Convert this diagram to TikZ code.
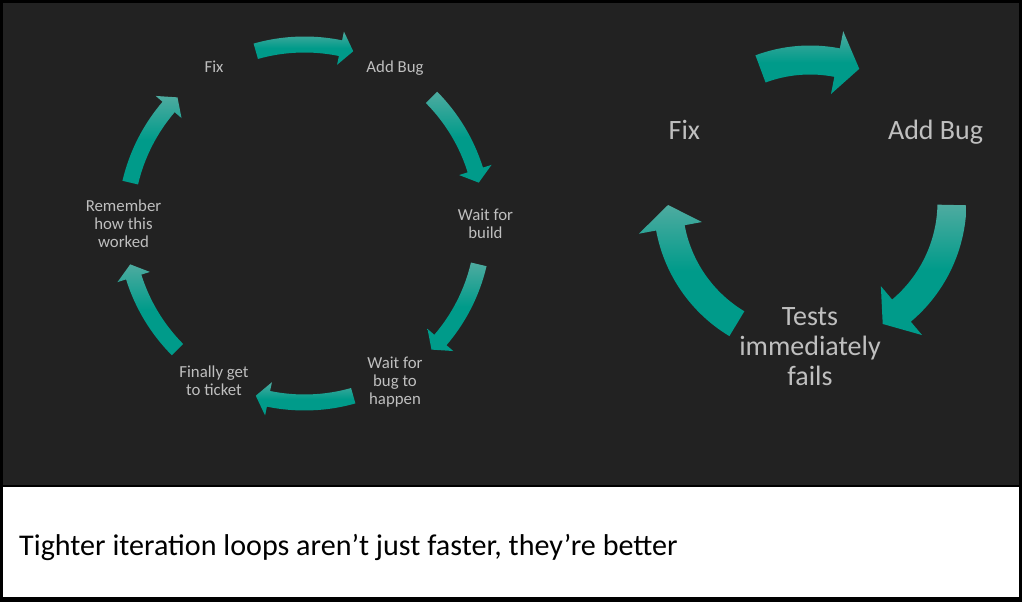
\documentclass[tikz,border=0pt]{standalone}
\usepackage{fontspec}
\setmainfont{Carlito}
\usepackage{tikz}
\usetikzlibrary{calc,positioning}
\definecolor{slidebg}{RGB}{34,34,34}
\definecolor{labelgray}{RGB}{191,191,191}
\definecolor{teallight}{RGB}{78,171,160}
\definecolor{tealdark}{RGB}{0,155,138}
\tikzstyle{smallstep} = [text=labelgray, align=center, inner sep=0pt, text depth=0pt, font=\fontsize{16.8}{18}\selectfont]
\tikzstyle{bigstep} = [text=labelgray, align=center, inner sep=0pt, text depth=0pt, font=\fontsize{28}{30}\selectfont]
\tikzstyle{captiontext} = [text=black, anchor=base west, inner sep=0pt, font=\fontsize{30.1}{32}\selectfont]
\tikzstyle{arrowfill} = [top color=teallight, bottom color=tealdark, middle color=tealdark]
\newcommand{\smallstep}[2]{node (s#1) [smallstep] {#2}}
\newcommand{\bigstep}[2]{node (b#1) [bigstep] {#2}}
% #1 centre, #2 radius, #3 half shaft, #4 half head, #5 tail, #6 head base, #7 tip
\newcommand{\looparrow}[7]{\shade[arrowfill] ($(#1)+(#5:{#2+#3})$) arc[start angle=#5, end angle=#6, radius={#2+#3}] -- ($(#1)+(#6:{#2+#4})$) -- ($(#1)+(#7:#2)$) -- ($(#1)+(#6:{#2-#4})$) -- ($(#1)+(#6:{#2-#3})$) arc[start angle=#6, end angle=#5, radius={#2-#3}] -- cycle;}

\begin{document}
\begin{tikzpicture}[x=1pt,y=1pt]
\useasboundingbox (0,0) rectangle (1022,602);
\fill[black] (0,0) rectangle (1022,602);
\fill[slidebg] (3,117) rectangle (1018.5,599);
\fill[white] (3,5) rectangle (1018.5,115);

% slow loop
\coordinate (c1) at (304.5,378.5);
\path ($(c1)+(120:181)$) \smallstep{1}{Fix};
\path ($(c1)+(60:181)$) \smallstep{2}{Add Bug};
\path ($(c1)+(0:181)$) \smallstep{3}{Wait for\\build};
\path ($(c1)+(-60:181)$) \smallstep{4}{Wait for\\bug to\\happen};
\path ($(c1)+(-120:181)$) \smallstep{5}{Finally get\\to ticket};
\path ($(c1)+(180:181)$) \smallstep{6}{Remember\\how this\\worked};
\foreach \a in {90,29,-29,-90,-151,151}{
  \looparrow{c1}{179}{8}{17}{\a+15.8}{\a-11.6}{\a-15.8}
}

% fast loop
\coordinate (c2) at (810,400);
\path ($(c2)+(150:145)$) \bigstep{1}{Fix};
\path ($(c2)+(30:145)$) \bigstep{2}{Add Bug};
\path ($(c2)+(-90:145)$) \bigstep{3}{Tests\\immediately\\fails};
\looparrow{c2}{142}{14.5}{32}{110.4}{79}{69.7}
\looparrow{c2}{142}{14.5}{32}{-1.2}{-49.9}{-59.2}
\looparrow{c2}{142}{14.5}{32}{239}{190.5}{181.2}

\node (cap) [captiontext] at (19,46) {Tighter iteration loops aren’t just faster, they’re better};
\end{tikzpicture}
\end{document}
